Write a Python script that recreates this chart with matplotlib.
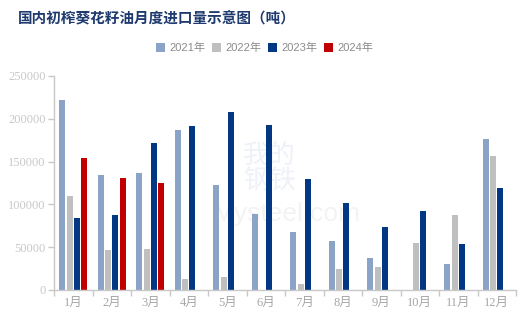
import matplotlib
matplotlib.use("Agg")
import matplotlib.pyplot as plt
import numpy as np
from matplotlib.patches import Patch

months = ["1月", "2月", "3月", "4月", "5月", "6月", "7月", "8月", "9月", "10月", "11月", "12月"]
series_names = ["2021年", "2022年", "2023年", "2024年"]
v2021 = [222000, 134300, 136700, 186900, 122700, 88800, 67800, 57200, 37400, None, 30400, 176400]
v2022 = [109800, 46700, 47900, 12850, 15200, None, 7000, 24500, 26900, 54900, 87600, 156500]
v2023 = [84100, 87600, 171700, 191600, 208000, 192800, 129700, 101600, 73600, 92300, 53700, 119200]
v2024 = [154200, 131200, 125000, None, None, None, None, None, None, None, None, None]
yticks = [0, 50000, 100000, 150000, 200000, 250000]

colors = ["#8ba3c7", "#bfbfbf", "#023883", "#c00000"]

fig = plt.figure(figsize=(5.31, 3.22), dpi=100)
ax = fig.add_axes([54/531, 1-290/322, (516-54)/531, (290-76)/322])

# faint watermark behind the bars
ax.text(269/531, 1-168/322, "我的\n钢铁", fontsize=19, color="#eef1f7",
        family=["Noto Sans CJK SC"], ha="center", va="center", zorder=0, linespacing=0.95,
        transform=fig.transFigure)
ax.text(287/531, 1-214/322, "Mysteel.com", fontsize=19, color="#f3f3f3",
        family=["Liberation Sans"], ha="center", va="center", zorder=0,
        transform=fig.transFigure)

x = np.arange(len(months))
step = 0.1875
width = 0.156
for i, (vals, c) in enumerate(zip([v2021, v2022, v2023, v2024], colors)):
    xs = [xi + (i - 1.5) * step for xi, v in zip(x, vals) if v is not None]
    ys = [v for v in vals if v is not None]
    ax.bar(xs, ys, width=width, color=c, linewidth=0, zorder=2)

ax.set_xlim(-0.5, len(months) - 0.5)
ax.set_ylim(0, 250000)
ax.set_yticks(yticks)
ax.set_yticklabels([str(t) for t in yticks], family=["Liberation Serif"], fontsize=9, color="#c9c9c9")
ax.set_xticks(x)
ax.set_xticklabels(months, family=["Liberation Serif", "Noto Sans CJK SC"], fontsize=9, color="#a6a6a6")
ax.tick_params(axis="x", length=0, pad=5)
ax.set_xticks(np.arange(-0.5, len(months)), minor=True)
ax.tick_params(axis="x", which="minor", length=4, color="#c8c8c8", width=1)
ax.tick_params(axis="y", length=4, color="#c8c8c8", width=1, pad=2)
for s in ["top", "right"]:
    ax.spines[s].set_visible(False)
for s in ["left", "bottom"]:
    ax.spines[s].set_color("#c8c8c8")
    ax.spines[s].set_linewidth(1)
    ax.spines[s].set_zorder(3)

fig.text(18/531, 1-18/322, "国内初榨葵花籽油月度进口量示意图（吨）", fontsize=10.5, fontweight="bold",
         color="#1f3a6e", family=["Noto Sans CJK SC"], ha="left", va="center")

handles = [Patch(facecolor=c, edgecolor="none") for c in colors]
leg = fig.legend(handles, series_names, loc="center", bbox_to_anchor=(265/531, 1-48/322), ncol=4,
                 frameon=False, handlelength=0.8, handleheight=0.8, handletextpad=0.4, columnspacing=0.6,
                 prop={"family": ["Liberation Sans", "Noto Sans CJK SC"], "size": 8})
for t in leg.get_texts():
    t.set_color("#8c8c8c")

fig.savefig("out.png", dpi=100)
